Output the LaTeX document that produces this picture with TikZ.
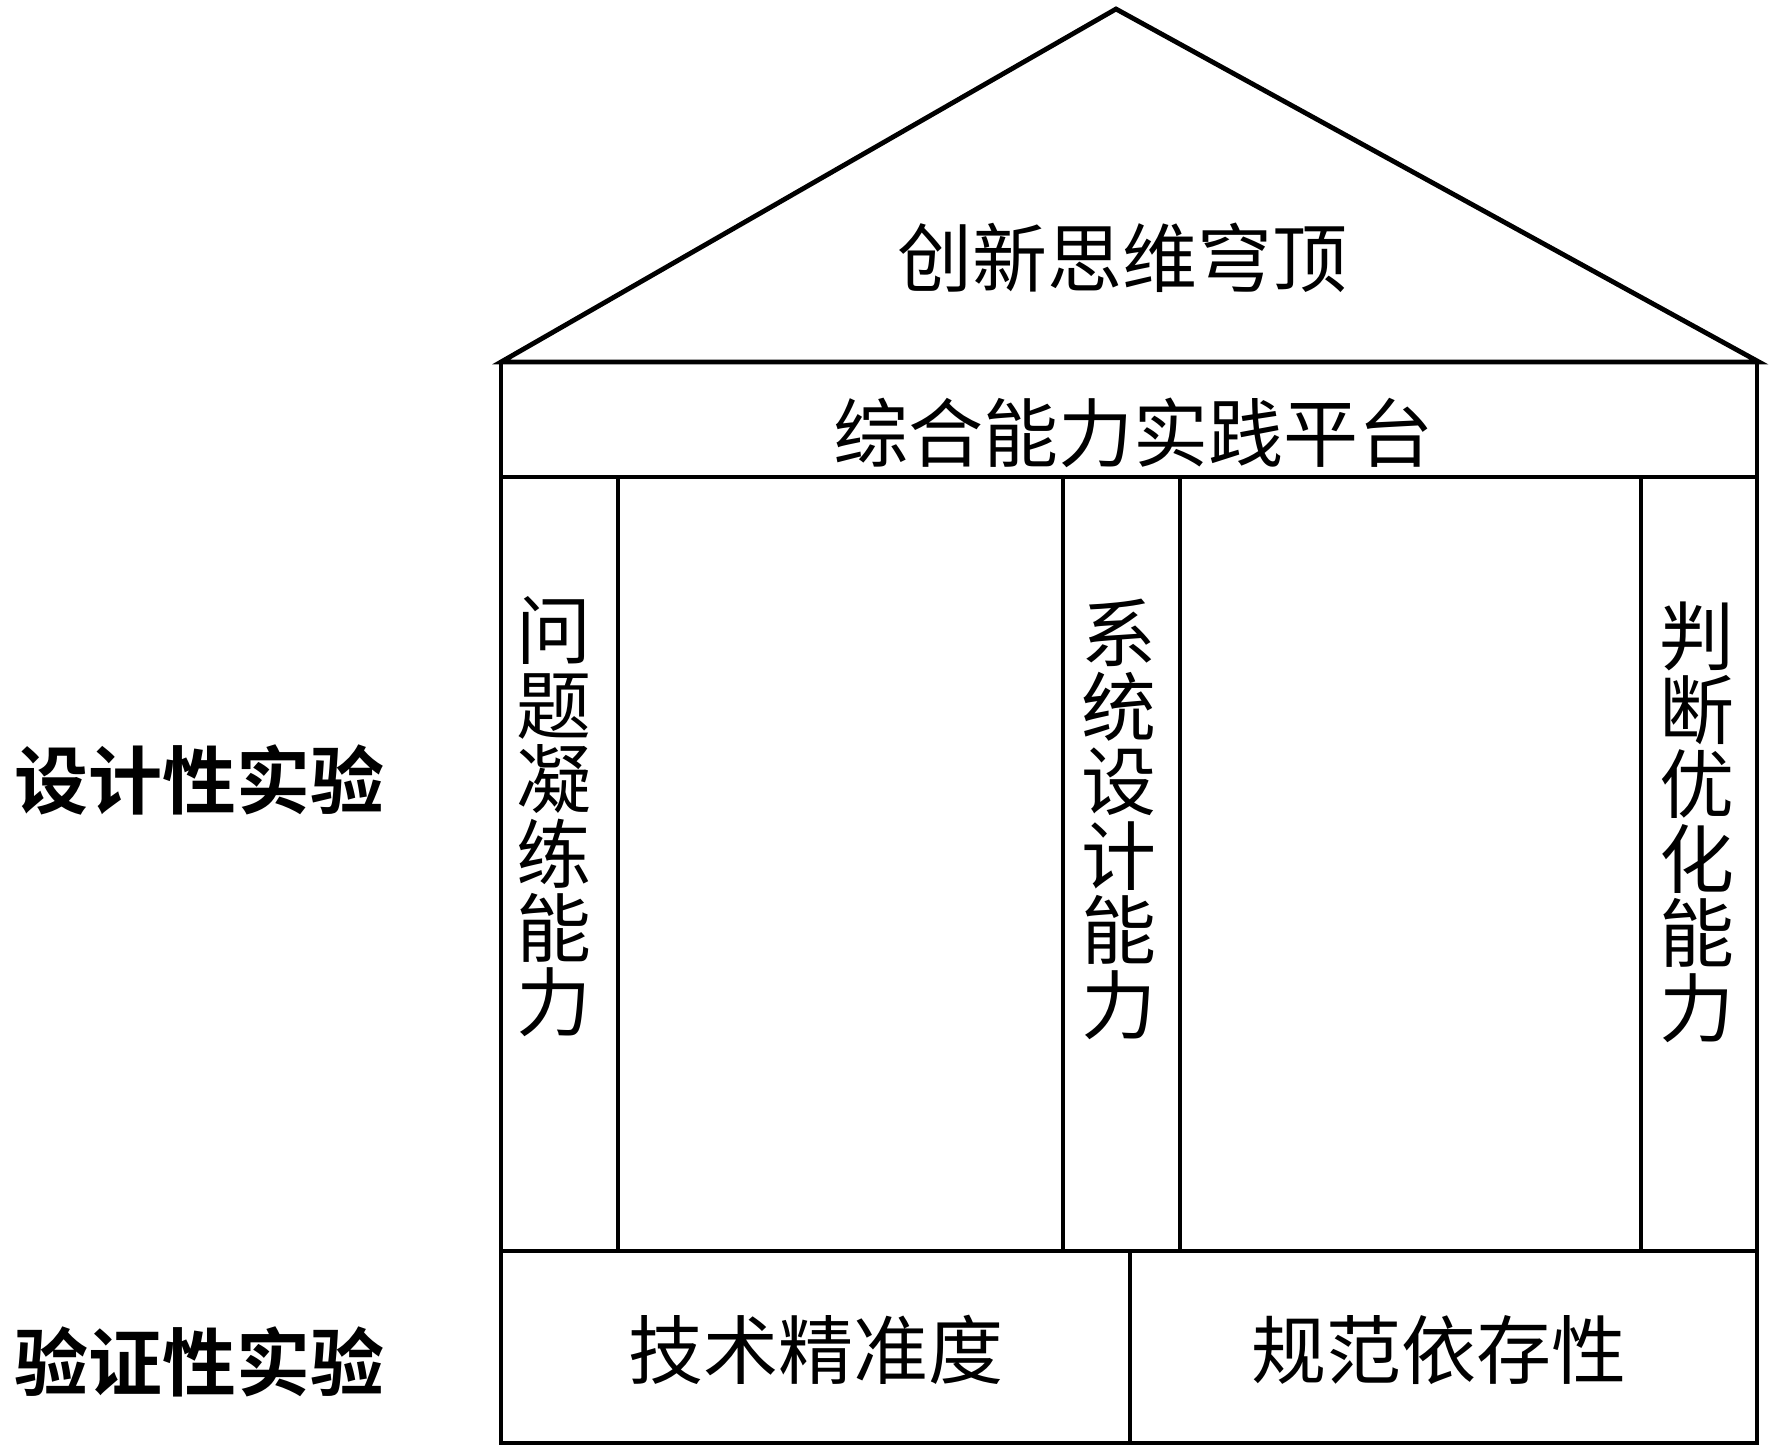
\documentclass[tikz,border=0pt]{standalone}
\usepackage{fontspec}
\newfontfamily\cjk{Noto Sans CJK SC}
\newfontfamily\cjkb{Noto Sans CJK SC Bold}
\begin{document}
\begin{tikzpicture}[x=0.5pt,y=-0.5pt,
  wall/.style={line width=2.4pt,line join=miter},
  lbl/.style={font=\cjk\fontsize{37.5}{37.2}\selectfont,inner sep=0pt,align=center},
  side/.style={font=\cjkb\fontsize{37}{37.2}\selectfont,inner sep=0pt}]
\useasboundingbox (0,0) rectangle (1772,1452);
% key coordinates
\coordinate (apex) at (1116,9);
\coordinate (bl) at (501,362);
\coordinate (br) at (1759,362);
% roof
\draw[wall] (bl) -- (apex) -- (br) -- cycle;
% band
\draw[wall] (501,362) rectangle (1757,477);
% columns area
\draw[wall] (501,477) rectangle (1757,1251);
\draw[wall] (618,477) -- (618,1251);
\draw[wall] (1063,477) -- (1063,1251);
\draw[wall] (1180,477) -- (1180,1251);
\draw[wall] (1641,477) -- (1641,1251);
% base
\draw[wall] (501,1251) rectangle (1757,1443);
\draw[wall] (1130,1251) -- (1130,1443);
% texts
\node[lbl] (dome) at (1122,258) {创新思维穹顶};
\node[lbl] (plat) at (1133,433) {综合能力实践平台};
\node[lbl] (c1) at (554,817) {问\\题\\凝\\练\\能\\力};
\node[lbl] (c2) at (1119,819) {系\\统\\设\\计\\能\\力};
\node[lbl] (c3) at (1697,822) {判\\断\\优\\化\\能\\力};
\node[lbl] (b1) at (816,1350) {技术精准度};
\node[lbl] (b2) at (1439,1350) {规范依存性};
\node[side] (s1) at (199,780) {设计性实验};
\node[side] (s2) at (199,1362) {验证性实验};
\end{tikzpicture}
\end{document}
